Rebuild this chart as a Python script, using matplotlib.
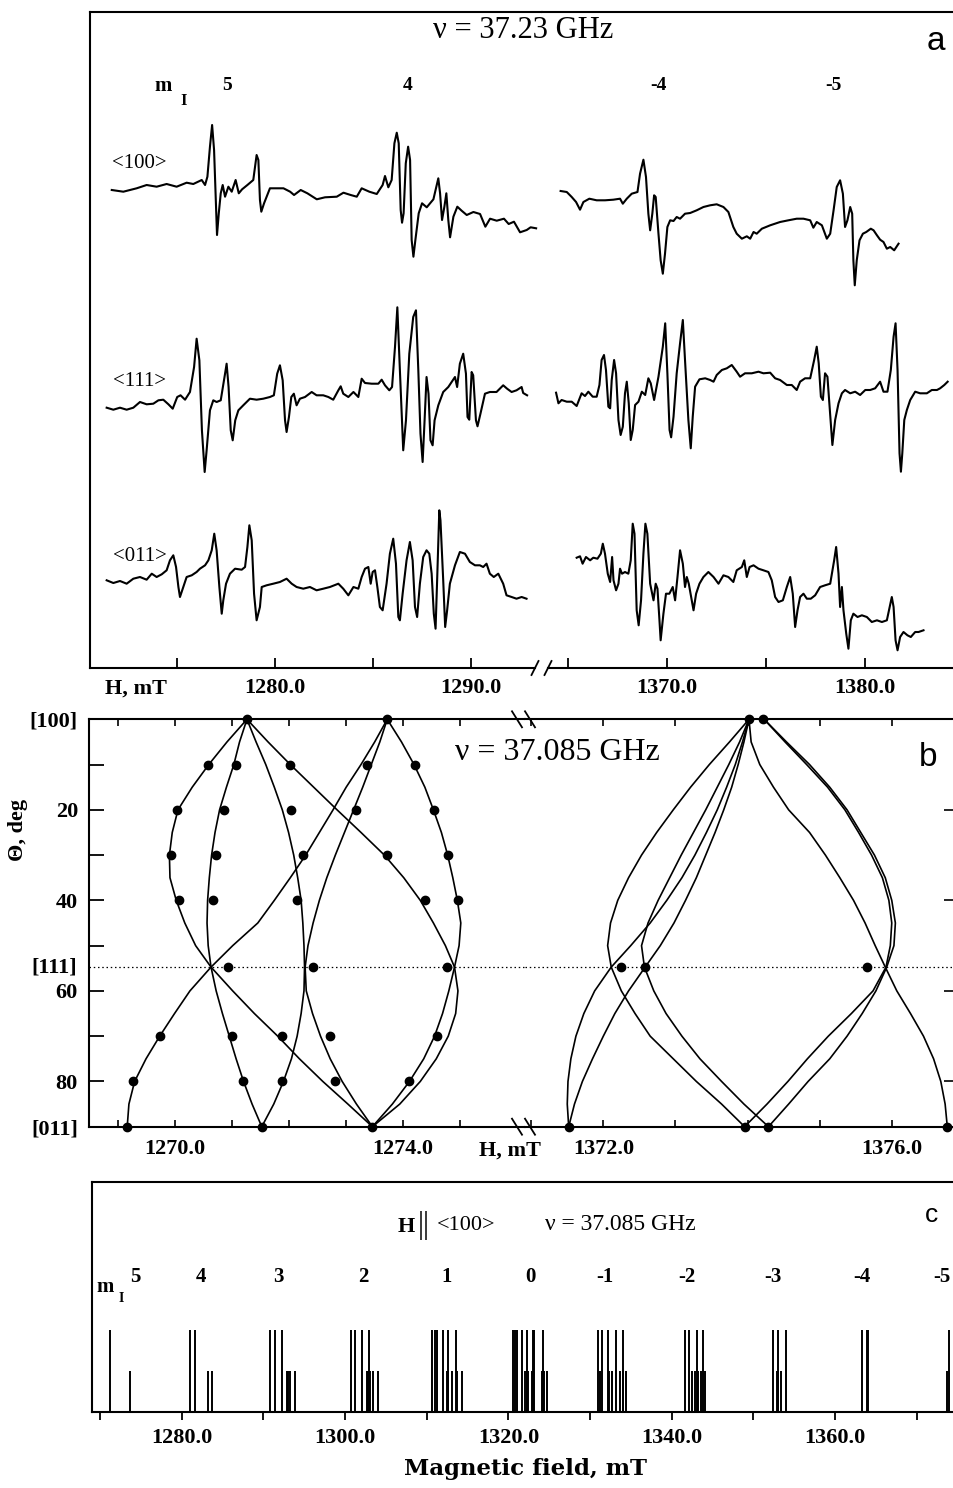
import matplotlib
matplotlib.use("Agg")
import matplotlib.pyplot as plt
from matplotlib.lines import Line2D
from matplotlib.transforms import blended_transform_factory

plt.rcParams['font.family'] = ['Liberation Serif', 'DejaVu Serif']
plt.rcParams['axes.linewidth'] = 1.5

W, H = 954, 1488

# ---------------- panel a : recorded EPR traces (field mT, signal a.u.) ----------------
TRACE_100_L = [(1271.67, 0), (1272.26, -1.7), (1272.94, 1.7), (1273.45, 5), (1273.96, 3.3), (1274.47, 6),
               (1274.98, 3.3), (1275.49, 7.3), (1275.83, 6), (1276.26, 10), (1276.43, 5), (1276.55, 13.3),
               (1276.68, 43.3), (1276.79, 65), (1276.89, 40), (1276.99, -16.7), (1277.04, -45), (1277.13, -23.3),
               (1277.23, -3.3), (1277.33, 5), (1277.45, -6.7), (1277.62, 3.3), (1277.79, -1.7), (1277.99, 10),
               (1278.15, -3.3), (1278.32, 0.7), (1278.59, 5), (1278.89, 10), (1279.06, 35), (1279.15, 30),
               (1279.23, -10), (1279.30, -21.7), (1279.44, -13.3), (1279.74, 1.7), (1280.43, 1.7), (1280.77, -1.7),
               (1280.97, -5), (1281.31, 0), (1281.65, -3.3), (1282.13, -9.3), (1282.55, -7.3), (1283.15, -6.7),
               (1283.49, -2.7), (1283.86, -5), (1284.17, -6.7), (1284.42, 1.7), (1284.81, -1.7), (1285.19, -4),
               (1285.49, 5), (1285.61, 14), (1285.78, 2.7), (1285.95, 10), (1286.09, 46.7), (1286.21, 57.3),
               (1286.31, 46.7), (1286.41, -20), (1286.48, -32.7), (1286.56, -23.3), (1286.67, 26.7), (1286.79, 43.3),
               (1286.89, 30), (1286.97, -50), (1287.06, -66.7), (1287.16, -50), (1287.33, -23.3), (1287.50, -13.3),
               (1287.74, -17.3), (1288.08, -9.3), (1288.33, 11.7), (1288.42, -3.3), (1288.52, -30), (1288.64, -16.7),
               (1288.74, -3.3), (1288.84, -30), (1288.93, -47.3), (1289.10, -26.7), (1289.30, -16.7), (1289.52, -20.7),
               (1289.78, -25), (1290.12, -22), (1290.46, -24), (1290.73, -36.7), (1290.97, -28.7), (1291.31, -30.7),
               (1291.68, -28.7), (1291.92, -34), (1292.19, -31.7), (1292.50, -42.3), (1292.84, -40), (1293.04, -37.3),
               (1293.32, -38.3)]

TRACE_111_L = [(1271.41, -0.7), (1271.75, -2.7), (1272.09, -0.7), (1272.43, -2.7), (1272.77, -0.7), (1273.11, 5),
               (1273.45, 2.7), (1273.79, 3.3), (1274.05, 6.7), (1274.30, 7.3), (1274.56, 2.7), (1274.78, -1.7),
               (1275.01, 10), (1275.18, 11.7), (1275.41, 7.3), (1275.66, 15), (1275.87, 40), (1276.00, 68.3),
               (1276.14, 46.7), (1276.27, -23.3), (1276.41, -65), (1276.51, -43.3), (1276.68, -3.3), (1276.85, 6.7),
               (1277.02, 5), (1277.23, 6.7), (1277.45, 33.3), (1277.53, 43.3), (1277.63, 20), (1277.74, -23.3),
               (1277.84, -33.3), (1277.97, -13.3), (1278.13, -3.3), (1278.38, 1.7), (1278.72, 8.3), (1279.06, 7.3),
               (1279.40, 8.3), (1279.74, 10), (1279.94, 11.7), (1280.11, 33.3), (1280.25, 41.7), (1280.39, 26.7),
               (1280.51, -13.3), (1280.59, -25), (1280.71, -10), (1280.83, 10), (1280.96, 13.3), (1281.10, 1.7),
               (1281.27, 8.3), (1281.53, 10), (1281.87, 15), (1282.12, 11.7), (1282.46, 11.7), (1282.72, 10),
               (1282.97, 7.3), (1283.23, 16.7), (1283.35, 20.7), (1283.48, 13.3), (1283.74, 10), (1284.00, 15),
               (1284.25, 10), (1284.42, 28.3), (1284.59, 24), (1284.93, 23.3), (1285.27, 23.3), (1285.44, 27.3),
               (1285.61, 21.7), (1285.83, 16.7), (1285.97, 20), (1286.12, 60), (1286.24, 99.7), (1286.37, 36.7),
               (1286.54, -43.3), (1286.68, -13.3), (1286.85, 53.3), (1287.05, 90), (1287.19, 96.7), (1287.31, 36.7),
               (1287.42, -26.7), (1287.53, -55), (1287.63, -13.3), (1287.73, 30), (1287.83, 13.3), (1287.93, -33.3),
               (1288.04, -38.3), (1288.14, -13.3), (1288.33, 1.7), (1288.58, 15), (1288.84, 20), (1289.01, 25),
               (1289.18, 30), (1289.29, 20), (1289.43, 43.3), (1289.60, 53.3), (1289.74, 33.3), (1289.82, -10),
               (1289.91, -12.7), (1290.03, 35), (1290.11, 31.7), (1290.25, -13.3), (1290.33, -19.3), (1290.48, -6.7),
               (1290.71, 13.3), (1290.96, 15), (1291.30, 15), (1291.64, 21.7), (1291.84, 18.3), (1292.07, 15),
               (1292.32, 16.7), (1292.58, 20), (1292.66, 14), (1292.86, 11.7)]

TRACE_011_L = [(1271.41, 1.7), (1271.75, -1), (1272.09, 1), (1272.43, -1.7), (1272.77, 3.3), (1273.11, 5),
               (1273.45, 2.3), (1273.71, 8.3), (1273.96, 5), (1274.22, 7.7), (1274.47, 11.7), (1274.64, 21.7),
               (1274.81, 26.7), (1274.95, 15), (1275.07, -5), (1275.15, -15), (1275.32, -5), (1275.49, 5),
               (1275.75, 6.7), (1276.00, 10), (1276.17, 13.3), (1276.43, 16.7), (1276.60, 21.7), (1276.77, 31.7),
               (1276.90, 48.3), (1277.02, 31.7), (1277.16, -5), (1277.28, -31.7), (1277.36, -18.3), (1277.50, -1.7),
               (1277.70, 8.3), (1277.96, 13.3), (1278.30, 12.3), (1278.47, 15), (1278.59, 35), (1278.69, 56.7),
               (1278.81, 41.7), (1278.93, -11.7), (1279.06, -38.3), (1279.23, -25), (1279.32, -5), (1279.57, -3.3),
               (1279.91, -1.7), (1280.25, 0), (1280.59, 3.3), (1280.85, -1.7), (1281.10, -5), (1281.44, -6.7),
               (1281.78, -5), (1282.12, -8.3), (1282.46, -6.7), (1282.80, -5), (1283.23, -1.7), (1283.48, -6.7),
               (1283.74, -13.3), (1284.00, -5), (1284.25, -6.7), (1284.42, 5), (1284.59, 13.3), (1284.76, 15),
               (1284.88, -1.7), (1284.98, 10), (1285.10, 11.7), (1285.22, -5), (1285.35, -25), (1285.49, -28.3),
               (1285.69, -1.7), (1285.86, 28.3), (1286.03, 43.3), (1286.17, 18.3), (1286.29, -35), (1286.37, -38.3),
               (1286.51, -11.7), (1286.71, 21.7), (1286.88, 40), (1287.02, 21.7), (1287.14, -25), (1287.25, -35),
               (1287.39, -1.7), (1287.56, 25), (1287.73, 31.7), (1287.87, 28.3), (1287.99, 8.3), (1288.10, -31.7),
               (1288.19, -46.7), (1288.27, 1.7), (1288.38, 71.7), (1288.44, 61.7), (1288.58, 1.7), (1288.68, -45),
               (1288.78, -28.3), (1288.92, -1.7), (1289.18, 16.7), (1289.43, 30), (1289.69, 28.3), (1289.94, 20),
               (1290.20, 16.7), (1290.45, 16.7), (1290.62, 15), (1290.79, 18.3), (1290.96, 8.3), (1291.16, 5),
               (1291.39, 8.3), (1291.64, -1.7), (1291.81, -13.3), (1292.07, -15), (1292.32, -16.7), (1292.58, -15),
               (1292.83, -16.7)]

TRACE_100_R = [(1364.64, 6), (1364.95, 5), (1365.20, 0), (1365.42, -5), (1365.62, -12.7), (1365.79, -5),
               (1366.09, -1.7), (1366.46, -3.3), (1366.88, -3.3), (1367.30, -2.7), (1367.64, -1.7), (1367.78, -6.7),
               (1367.98, -1.7), (1368.23, 3.3), (1368.52, 5), (1368.65, 23.3), (1368.82, 37.3), (1368.95, 20),
               (1369.07, -16.7), (1369.16, -33.3), (1369.27, -16.7), (1369.36, 1.7), (1369.44, 0), (1369.58, -36.7),
               (1369.69, -63.3), (1369.80, -76.7), (1369.91, -56.7), (1370.03, -30), (1370.17, -23.3), (1370.34, -24),
               (1370.50, -20), (1370.67, -21.7), (1370.92, -16.7), (1371.18, -16), (1371.51, -13.3), (1371.85, -10),
               (1372.19, -8.3), (1372.52, -7.3), (1372.86, -10), (1373.11, -15), (1373.36, -30), (1373.53, -36.7),
               (1373.79, -41.7), (1374.04, -39.3), (1374.21, -41.7), (1374.38, -35), (1374.54, -36.7), (1374.80, -31.7),
               (1375.22, -28.3), (1375.72, -25), (1376.14, -23.3), (1376.56, -21.7), (1376.90, -21.7), (1377.24, -23.3),
               (1377.40, -30.7), (1377.57, -25), (1377.83, -28.3), (1378.08, -41.7), (1378.25, -36.7), (1378.42, -13.3),
               (1378.58, 10), (1378.75, 16.7), (1378.89, 3.3), (1379.00, -30), (1379.12, -23.3), (1379.26, -10),
               (1379.36, -16.7), (1379.42, -63.3), (1379.49, -88.3), (1379.59, -63.3), (1379.73, -43.3),
               (1379.90, -36.7), (1380.07, -35), (1380.30, -31.7), (1380.44, -33.3), (1380.61, -38.3), (1380.77, -42.7),
               (1380.94, -45), (1381.11, -51.7), (1381.28, -50), (1381.48, -53.3), (1381.70, -46.7)]

TRACE_111_R = [(1364.41, 7.3), (1364.53, -3.3), (1364.69, 0), (1364.95, -1.7), (1365.20, -1.7), (1365.45, -6),
               (1365.70, 6.7), (1365.87, 4), (1366.04, 8.3), (1366.26, 3.3), (1366.46, 3.3), (1366.60, 15),
               (1366.71, 40), (1366.83, 45), (1366.93, 30), (1367.05, -6.7), (1367.14, -8.3), (1367.22, 20),
               (1367.34, 40), (1367.44, 26.7), (1367.56, -20), (1367.67, -35), (1367.78, -26.7), (1367.89, 6.7),
               (1367.98, 18.3), (1368.08, -3.3), (1368.18, -40), (1368.28, -30), (1368.40, -5), (1368.57, -1.7),
               (1368.74, 8.3), (1368.91, 5), (1369.07, 21.7), (1369.19, 16.7), (1369.36, 0), (1369.58, 23.3),
               (1369.80, 53.3), (1369.92, 76.7), (1370.03, 26.7), (1370.14, -30), (1370.22, -37.3), (1370.34, -16.7),
               (1370.50, 26.7), (1370.67, 56.7), (1370.81, 80), (1370.92, 40), (1371.09, -20), (1371.21, -48.3),
               (1371.31, -16.7), (1371.43, 13.3), (1371.65, 20.7), (1371.94, 21.7), (1372.19, 20), (1372.36, 18.3),
               (1372.52, 25), (1372.78, 30), (1373.03, 31.7), (1373.28, 35), (1373.53, 28.3), (1373.70, 23.3),
               (1373.95, 26.7), (1374.29, 26.7), (1374.63, 28.3), (1374.88, 26.7), (1375.22, 27.3), (1375.47, 21.7),
               (1375.72, 20), (1376.06, 15), (1376.31, 15), (1376.56, 10), (1376.73, 18.3), (1376.98, 21.7),
               (1377.24, 21.7), (1377.44, 40), (1377.57, 53.3), (1377.67, 36.7), (1377.78, 3.3), (1377.88, 0),
               (1377.99, 26.7), (1378.11, 23.3), (1378.25, -15), (1378.36, -45), (1378.50, -20), (1378.67, -3.3),
               (1378.84, 6.7), (1379.00, 10), (1379.26, 6.7), (1379.51, 8.3), (1379.76, 5), (1380.02, 10),
               (1380.27, 10), (1380.52, 11.7), (1380.77, 18.3), (1380.94, 8.3), (1381.14, 8.3), (1381.31, 30),
               (1381.45, 63.3), (1381.55, 76.7), (1381.65, 30), (1381.75, -53.3), (1381.82, -71.7), (1381.89, -53.3),
               (1381.99, -20), (1382.12, -10), (1382.29, 0), (1382.54, 8.3), (1382.79, 6.7), (1383.13, 6.7),
               (1383.38, 10), (1383.64, 10), (1383.80, 11.7), (1384.01, 15), (1384.18, 18.3)]

TRACE_011_R = [(1365.45, -0.7), (1365.62, 0.7), (1365.75, -6.7), (1365.92, 0), (1366.13, -3.3), (1366.29, -0.7),
               (1366.50, -1.7), (1366.67, 3.3), (1366.77, 13.3), (1366.88, 3.3), (1367.02, -16.7), (1367.14, -25),
               (1367.24, 0), (1367.31, -23.3), (1367.44, -33.3), (1367.56, -26.7), (1367.64, -11.7), (1367.74, -16.7),
               (1367.89, -15), (1368.06, -16.7), (1368.18, -3.3), (1368.28, 33.3), (1368.37, 23.3), (1368.48, -53.3),
               (1368.58, -68.3), (1368.70, -43.3), (1368.82, 3.3), (1368.92, 33.3), (1369.02, 23.3), (1369.16, -26.7),
               (1369.33, -43.3), (1369.44, -26.7), (1369.53, -31.7), (1369.63, -63.3), (1369.69, -83.3),
               (1369.83, -56.7), (1369.96, -36.7), (1370.13, -36.7), (1370.30, -30), (1370.42, -43.3), (1370.54, -20),
               (1370.67, 6.7), (1370.81, -6.7), (1370.92, -30), (1371.01, -20), (1371.11, -26.7), (1371.26, -43.3),
               (1371.35, -53.3), (1371.48, -36.7), (1371.65, -26.7), (1371.85, -20), (1372.10, -15), (1372.36, -20),
               (1372.61, -26.7), (1372.86, -18.3), (1373.11, -20), (1373.36, -25), (1373.53, -13.3), (1373.79, -10),
               (1373.91, -3.3), (1374.04, -20), (1374.18, -10), (1374.38, -8.3), (1374.63, -11.7), (1374.88, -13.3),
               (1375.13, -15), (1375.30, -23.3), (1375.47, -40), (1375.64, -45), (1375.86, -43.3), (1376.06, -30),
               (1376.23, -20), (1376.36, -36.7), (1376.48, -70), (1376.60, -53.3), (1376.73, -40), (1376.90, -36.7),
               (1377.07, -41.7), (1377.27, -41.7), (1377.49, -38.3), (1377.74, -30), (1377.99, -28.3), (1378.25, -26.7),
               (1378.45, -3.3), (1378.55, 10), (1378.67, -16.7), (1378.75, -50), (1378.84, -30), (1378.92, -53.3),
               (1379.06, -76.7), (1379.17, -91.7), (1379.29, -63.3), (1379.42, -56.7), (1379.63, -60), (1379.85, -58.3),
               (1380.10, -60), (1380.35, -65), (1380.61, -63.3), (1380.86, -65), (1381.11, -63.3), (1381.36, -40),
               (1381.45, -50), (1381.55, -83.3), (1381.65, -93.3), (1381.78, -80), (1381.95, -75), (1382.15, -78.3),
               (1382.32, -80), (1382.54, -75), (1382.71, -75), (1382.96, -73.3)]

ORIENTATIONS = ['<100>', '<111>', '<011>']
BASELINE_L = [478, 261, 86]
BASELINE_R = [471, 268, 111]
MI_A = ['5', '4', '-4', '-5']
MI_A_FIELD = [1277.55, 1286.79, 1369.56, 1378.40]

# ---------------- panel b : angular dependence, theta (deg) vs field (mT) ----------------
THETA = [0, 5, 10, 15, 20, 25, 30, 35, 40, 45, 50, 54.74, 60, 65, 70, 75, 80, 85, 90]

LOW_A = [1271.27, 1270.92, 1270.60, 1270.31, 1270.06, 1269.96, 1269.91, 1269.92, 1270.03, 1270.18, 1270.37,
         1270.64, 1271.02, 1271.40, 1271.81, 1272.19, 1272.60, 1273.04, 1273.47]
LOW_B = [1271.27, 1271.14, 1271.04, 1270.91, 1270.79, 1270.71, 1270.65, 1270.61, 1270.58, 1270.57, 1270.59,
         1270.64, 1270.73, 1270.84, 1270.96, 1271.08, 1271.21, 1271.36, 1271.53]
LOW_C = [1271.27, 1271.43, 1271.60, 1271.75, 1271.89, 1272.00, 1272.09, 1272.16, 1272.22, 1272.25, 1272.27,
         1272.28, 1272.27, 1272.22, 1272.15, 1272.05, 1271.91, 1271.74, 1271.53]
LOW_D = [1273.73, 1273.51, 1273.27, 1273.01, 1272.78, 1272.54, 1272.30, 1272.03, 1271.75, 1271.46, 1271.02,
         1270.64, 1270.27, 1270.00, 1269.74, 1269.50, 1269.30, 1269.20, 1269.17]
LOW_E = [1271.27, 1271.64, 1272.03, 1272.44, 1272.85, 1273.27, 1273.68, 1274.02, 1274.31, 1274.54, 1274.75,
         1274.91, 1274.97, 1274.93, 1274.80, 1274.59, 1274.31, 1273.95, 1273.47]
LOW_F = [1273.73, 1273.60, 1273.45, 1273.30, 1273.14, 1272.98, 1272.82, 1272.67, 1272.54, 1272.43, 1272.34,
         1272.29, 1272.31, 1272.42, 1272.56, 1272.73, 1272.94, 1273.19, 1273.47]
LOW_G = [1273.73, 1273.98, 1274.20, 1274.39, 1274.54, 1274.68, 1274.79, 1274.88, 1274.96, 1275.02, 1274.99,
         1274.91, 1274.81, 1274.70, 1274.56, 1274.37, 1274.12, 1273.82, 1273.47]

HIGH_1 = [1374.02, 1373.75, 1373.47, 1373.21, 1372.97, 1372.74, 1372.53, 1372.35, 1372.20, 1372.10, 1372.06,
          1372.11, 1372.25, 1372.44, 1372.65, 1372.97, 1373.29, 1373.64, 1373.96]
HIGH_2 = [1374.02, 1373.89, 1373.74, 1373.58, 1373.42, 1373.25, 1373.08, 1372.92, 1372.76, 1372.62, 1372.53,
          1372.57, 1372.70, 1372.87, 1373.09, 1373.34, 1373.64, 1373.95, 1374.29]
HIGH_3 = [1374.02, 1373.93, 1373.83, 1373.71, 1373.58, 1373.43, 1373.27, 1373.09, 1372.88, 1372.65, 1372.38,
          1372.11, 1371.88, 1371.73, 1371.62, 1371.55, 1371.51, 1371.50, 1371.52]
HIGH_4 = [1374.02, 1373.95, 1373.87, 1373.78, 1373.67, 1373.55, 1373.42, 1373.29, 1373.14, 1372.98, 1372.79,
          1372.58, 1372.35, 1372.16, 1372.00, 1371.85, 1371.71, 1371.60, 1371.52]
HIGH_5 = [1374.02, 1374.05, 1374.17, 1374.36, 1374.57, 1374.86, 1375.08, 1375.28, 1375.47, 1375.63, 1375.77,
          1375.91, 1376.07, 1376.26, 1376.44, 1376.58, 1376.68, 1376.74, 1376.77]
HIGH_6 = [1374.23, 1374.52, 1374.82, 1375.11, 1375.35, 1375.54, 1375.72, 1375.87, 1375.96, 1376.00, 1375.98,
          1375.92, 1375.74, 1375.44, 1375.12, 1374.83, 1374.56, 1374.27, 1373.96]
HIGH_7 = [1374.23, 1374.54, 1374.86, 1375.14, 1375.38, 1375.57, 1375.76, 1375.91, 1376.00, 1376.05, 1376.03,
          1375.93, 1375.78, 1375.59, 1375.38, 1375.14, 1374.84, 1374.57, 1374.29]

DOTS_LOW = [(0, 1271.27), (0, 1273.73),
            (10, 1270.58), (10, 1271.07), (10, 1272.03), (10, 1273.38), (10, 1274.22),
            (20, 1270.04), (20, 1270.86), (20, 1272.05), (20, 1273.18), (20, 1274.55),
            (30, 1269.94), (30, 1270.72), (30, 1272.25), (30, 1273.72), (30, 1274.79),
            (40, 1270.08), (40, 1270.67), (40, 1272.15), (40, 1274.40), (40, 1274.97),
            (54.74, 1270.94), (54.74, 1272.43), (54.74, 1274.78),
            (70, 1269.75), (70, 1271.01), (70, 1271.89), (70, 1272.73), (70, 1274.61),
            (80, 1269.28), (80, 1271.20), (80, 1271.88), (80, 1272.82), (80, 1274.12),
            (90, 1269.17), (90, 1271.53), (90, 1273.47)]
DOTS_HIGH = [(0, 1374.02), (0, 1374.22), (54.74, 1372.25), (54.74, 1372.58), (54.74, 1375.66),
             (90, 1371.52), (90, 1373.96), (90, 1374.29), (90, 1376.77)]

# ---------------- panel c : calculated stick spectrum ----------------
STICKS_FULL = [1271.22, 1281.02, 1281.63, 1290.81, 1291.42, 1292.24, 1300.69, 1301.22, 1302.04, 1302.93,
               1310.69, 1311.01, 1311.30, 1311.96, 1312.64, 1313.59, 1320.60, 1320.81, 1321.09, 1321.63,
               1322.32, 1322.98, 1323.14, 1324.28, 1331.01, 1331.43, 1332.24, 1333.18, 1334.07, 1341.63,
               1342.15, 1343.06, 1343.79, 1352.37, 1353.05, 1353.99, 1363.26, 1363.95, 1364.07, 1373.99]
STICKS_HALF = [1273.67, 1283.26, 1283.75, 1292.86, 1293.05, 1293.26, 1293.87, 1302.65, 1302.85, 1303.06,
               1303.46, 1304.07, 1312.45, 1312.57, 1313.06, 1313.67, 1314.36, 1322.04, 1322.24, 1322.44,
               1322.86, 1324.08, 1324.37, 1324.69, 1331.22, 1332.36, 1332.65, 1333.67, 1334.00, 1334.40,
               1342.45, 1342.85, 1343.26, 1343.55, 1344.07, 1352.86, 1353.05, 1353.35, 1373.67]
MI_C = ['5', '4', '3', '2', '1', '0', '-1', '-2', '-3', '-4', '-5']
MI_C_FIELD = [1274.3, 1282.3, 1291.8, 1302.2, 1312.4, 1322.7, 1331.8, 1341.8, 1352.4, 1363.3, 1373.1]


def box(x0, y0, x1, y1):
    return [x0 / W, 1 - y1 / H, (x1 - x0) / W, (y1 - y0) / H]


def label(x, y, s, **kw):
    fig.text(x / W, 1 - y / H, s, **kw)


def slash(x, y, dx, dy):
    fig.add_artist(Line2D([(x - dx) / W, (x + dx) / W], [1 - (y + dy) / H, 1 - (y - dy) / H],
                          transform=fig.transFigure, color='black', lw=1.3))


fig = plt.figure(figsize=(W / 100, H / 100), dpi=100)
tick_font = dict(fontsize=16, fontweight='bold')

# ---- panel a ----
axL = fig.add_axes(box(90, 12, 542, 668))
axR = fig.add_axes(box(542, 12, 954, 668))
axL.set_xlim(1270.56, 1293.62)
axR.set_xlim(1363.70, 1384.5)
for ax in (axL, axR):
    ax.set_ylim(0, 656)
    ax.set_yticks([])
    ax.spines['right'].set_visible(False)
    ax.tick_params(axis='x', direction='in', length=7, width=1.3, pad=7)
axR.spines['left'].set_visible(False)
axL.spines['bottom'].set_bounds(1270.56, 1293.27)
axR.spines['bottom'].set_bounds(1364.0, 1384.5)

for trace, base in zip([TRACE_100_L, TRACE_111_L, TRACE_011_L], BASELINE_L):
    axL.plot([p[0] for p in trace], [p[1] + base for p in trace], color='black', lw=1.5)
for trace, base in zip([TRACE_100_R, TRACE_111_R, TRACE_011_R], BASELINE_R):
    axR.plot([p[0] for p in trace], [p[1] + base for p in trace], color='black', lw=1.5)

axL.set_xticks([1275, 1280, 1285, 1290])
axL.set_xticklabels(['', '1280.0', '', '1290.0'], **tick_font)
axR.set_xticks([1365, 1370, 1375, 1380])
axR.set_xticklabels(['', '1370.0', '', '1380.0'], **tick_font)

for name, field in zip(MI_A, MI_A_FIELD):
    ax = axL if field < 1300 else axR
    ax.text(field, 582, name, ha='center', va='center', fontsize=14, fontweight='bold')

for name, base in zip(ORIENTATIONS, BASELINE_L):
    axL.text(1273.1, base + 26, name, ha='center', va='center', fontsize=15)

slash(535, 668, 3.5, 7)
slash(548, 668, 3.5, 7)
label(523, 31, 'ν = 37.23 GHz', ha='center', va='center', fontsize=22)
label(936, 42, 'a', ha='center', va='center', fontsize=24, family='Liberation Sans')
label(163, 86, 'm', ha='center', va='center', fontsize=15, fontweight='bold')
label(184, 101, 'I', ha='center', va='center', fontsize=12, fontweight='bold')
label(136, 689, 'H, mT', ha='center', va='center', fontsize=16, fontweight='bold')

# ---- panel b ----
bL = fig.add_axes(box(89, 719.3, 525, 1126.7))
bR = fig.add_axes(box(525, 719.3, 954, 1126.7))
bL.set_xlim(1268.50, 1276.146)
bR.set_xlim(1370.914, 1376.863)
for ax in (bL, bR):
    ax.set_ylim(90, 0)
    ax.spines['right'].set_visible(False)
    ax.axhline(54.74, color='black', lw=0.9, ls=(0, (1.2, 2.2)))
    ax.tick_params(axis='x', which='both', top=True, bottom=True, direction='in', length=5, width=1.2, pad=9)
bR.spines['left'].set_visible(False)

for curve in (LOW_A, LOW_B, LOW_C, LOW_D, LOW_E, LOW_F, LOW_G):
    bL.plot(curve, THETA, color='black', lw=1.2)
for curve in (HIGH_1, HIGH_2, HIGH_3, HIGH_4, HIGH_5, HIGH_6, HIGH_7):
    bR.plot(curve, THETA, color='black', lw=1.2)
bL.plot([d[1] for d in DOTS_LOW], [d[0] for d in DOTS_LOW], 'o', color='black', ms=6, clip_on=False)
bR.plot([d[1] for d in DOTS_HIGH], [d[0] for d in DOTS_HIGH], 'o', color='black', ms=6, clip_on=False)

bL.set_xticks(range(1269, 1276))
bL.set_xticklabels(['', '1270.0', '', '', '', '1274.0', ''], **tick_font)
bR.set_xticks(range(1371, 1377))
bR.set_xticklabels(['', '1372.0', '', '', '', '1376.0'], **tick_font)

bL.set_yticks(range(0, 91, 10))
bL.set_yticklabels(['[100]', '', '20', '', '40', '', '60', '', '80', '[011]'], **tick_font)
bL.tick_params(axis='y', direction='in', length=11, width=1.3, pad=8)
bL.text(-0.027, 54.74, '[111]', transform=blended_transform_factory(bL.transAxes, bL.transData),
        ha='right', va='center', **tick_font)
bR.yaxis.set_ticks_position('right')
bR.set_yticks([20, 40, 60, 80])
bR.set_yticklabels([])
bR.tick_params(axis='y', direction='in', length=7, width=1.2)

for x in (517, 530):
    slash(x, 719.3, -5, 8)
    slash(x, 1126.7, -5, 8)
label(557, 752, 'ν = 37.085 GHz', ha='center', va='center', fontsize=23)
label(928, 757, 'b', ha='center', va='center', fontsize=24, family='Liberation Sans')
label(510, 1151, 'H, mT', ha='center', va='center', fontsize=16, fontweight='bold')
label(18, 830, 'Θ, deg', ha='center', va='center', rotation=90, fontsize=16, fontweight='bold')

# ---- panel c ----
cx = fig.add_axes(box(91.7, 1181.7, 954, 1412.3))
cx.set_xlim(1268.98, 1374.56)
cx.set_ylim(0, 2.81)
cx.spines['right'].set_visible(False)
cx.set_yticks([])
cx.vlines(STICKS_FULL, 0, 1.0, color='black', lw=1.4)
cx.vlines(STICKS_HALF, 0, 0.5, color='black', lw=1.4)
cx.set_xticks(range(1270, 1371, 10))
cx.set_xticklabels(['', '1280.0', '', '1300.0', '', '1320.0', '', '1340.0', '', '1360.0', ''], **tick_font)
cx.tick_params(axis='x', direction='out', length=6, width=1.3, pad=5)
for name, field in zip(MI_C, MI_C_FIELD):
    cx.text(field, 1.65, name, ha='center', va='center', fontsize=15, fontweight='bold')
label(105, 1287, 'm', ha='center', va='center', fontsize=15, fontweight='bold')
label(121, 1299, 'I', ha='center', va='center', fontsize=10, fontweight='bold')
label(406, 1227, 'H', ha='center', va='center', fontsize=16, fontweight='bold')
label(424, 1226, '||', ha='center', va='center', fontsize=22)
label(466, 1226, '<100>', ha='center', va='center', fontsize=16)
label(620, 1225, 'ν = 37.085 GHz', ha='center', va='center', fontsize=17)
label(932, 1215, 'c', ha='center', va='center', fontsize=19, family='Liberation Sans')
label(526, 1469, 'Magnetic field, mT', ha='center', va='center', fontsize=16.5, fontweight='bold',
      family='DejaVu Serif')

fig.savefig('out.png', dpi=100)
